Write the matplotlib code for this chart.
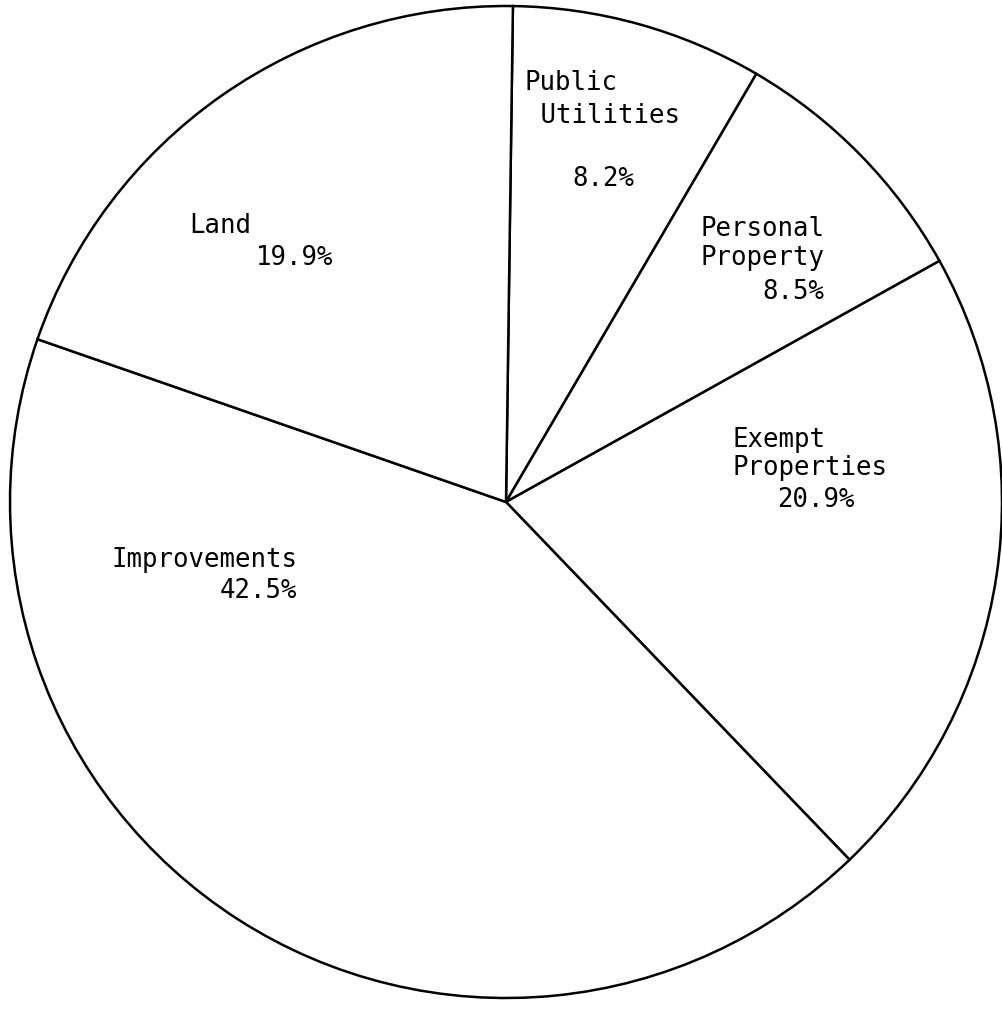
import matplotlib
matplotlib.use("Agg")
import matplotlib.pyplot as plt

# Data (clockwise from top)
categories = ["Public Utilities", "Personal Property", "Exempt Properties", "Improvements", "Land"]
values = [8.2, 8.5, 20.9, 42.5, 19.9]

# label text lines for each slice (name lines + percentage)
label_lines = [
    ["Public", " Utilities"],
    ["Personal", "Property"],
    ["Exempt", "Properties"],
    ["Improvements"],
    ["Land"],
]

W, H = 1002, 1009
fig = plt.figure(figsize=(W / 100, H / 100), dpi=100)
ax = fig.add_axes([0, 0, 1, 1])

cx, cy_pix, r = 506, 502, 496
ax.pie(values, startangle=89.2, counterclock=False,
       center=(cx, H - cy_pix), radius=r,
       wedgeprops=dict(facecolor="white", edgecolor="black", linewidth=1.8))
ax.set_xlim(0, W)
ax.set_ylim(0, H)
ax.set_aspect("auto")
ax.axis("off")

# label placement (left x, baselines in pixel coords from top)
name_pos = [
    [(525, 90), (525, 123)],
    [(701, 236), (701, 265)],
    [(733, 447), (733, 475)],
    [(112, 567)],
    [(189, 233)],
]
pct_pos = [(572, 186), (762, 299), (777, 507), (220, 598), (256, 265)]

fs = 18.5
font = "DejaVu Sans Mono"
for lines, npos, ppos, v in zip(label_lines, name_pos, pct_pos, values):
    for t, (x, y) in zip(lines, npos):
        ax.text(x, H - y, t, ha="left", va="baseline", fontsize=fs,
                family=font, color="black")
    ax.text(ppos[0], H - ppos[1], f"{v:.1f}%", ha="left", va="baseline",
            fontsize=fs, family=font, color="black")

fig.savefig("out.png", dpi=100, facecolor="white")
